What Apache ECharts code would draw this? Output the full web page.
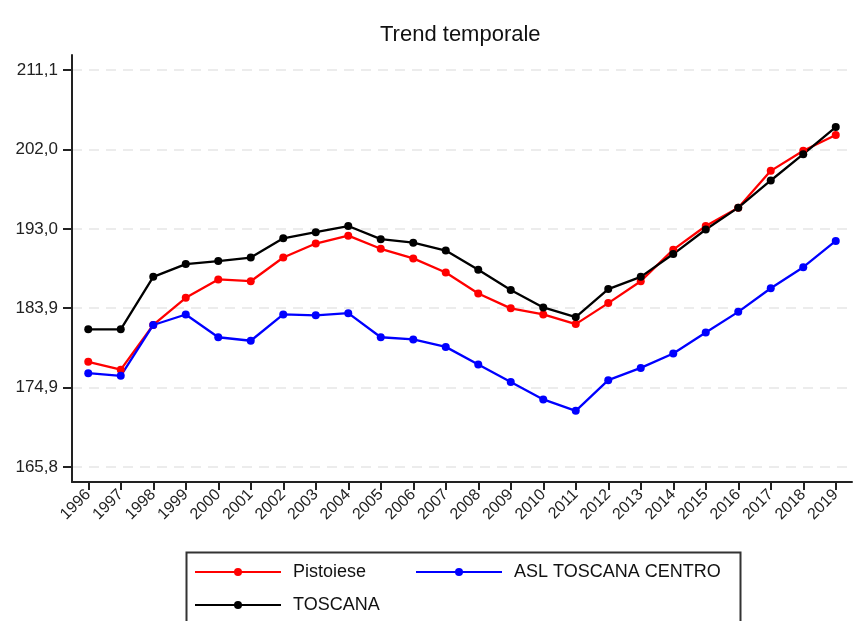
<!DOCTYPE html>
<html>
<head>
<meta charset="utf-8">
<script src="https://cdn.jsdelivr.net/npm/echarts@6/dist/echarts.min.js"></script>
<style>
html,body{margin:0;padding:0;background:#fff;}
#chart{width:857px;height:621px;}
</style>
</head>
<body>
<div id="chart"></div>
<script>
var years = ['1996','1997','1998','1999','2000','2001','2002','2003','2004','2005','2006','2007','2008','2009','2010','2011','2012','2013','2014','2015','2016','2017','2018','2019'];
var pistoiese = [177.8,176.9,182.0,185.1,187.2,187.0,189.7,191.3,192.2,190.7,189.6,188.0,185.6,183.9,183.2,182.1,184.5,187.0,190.6,193.3,195.4,199.6,201.9,203.7];
var aslToscanaCentro = [176.5,176.2,182.0,183.2,180.6,180.2,183.2,183.1,183.35,180.6,180.35,179.5,177.5,175.5,173.5,172.2,175.7,177.1,178.75,181.15,183.5,186.2,188.6,191.6];
var toscana = [181.5,181.5,187.5,188.95,189.3,189.7,191.9,192.6,193.3,191.8,191.4,190.5,188.3,186.0,184.0,182.9,186.1,187.5,190.1,192.9,195.4,198.5,201.5,204.6];
var yTicks = [165.8, 174.86, 183.92, 192.98, 202.04, 211.1];
var seriesNames = ['Pistoiese', 'ASL TOSCANA CENTRO', 'TOSCANA'];
var seriesColors = ['#ff0000', '#0000ff', '#000000'];

var FONT = "'Liberation Sans', Arial, sans-serif";
var chart = echarts.init(document.getElementById('chart'), null, {renderer: 'canvas'});

function mk(name, data, color) {
  return {
    name: name, type: 'line', data: data,
    symbol: 'circle', symbolSize: 8, showSymbol: true,
    itemStyle: {color: color},
    lineStyle: {color: color, width: 2.3},
    emphasis: {disabled: true},
    animation: false
  };
}

var option = {
  backgroundColor: '#ffffff',
  animation: false,
  title: {
    text: 'Trend temporale',
    left: 380, top: 24, padding: 0,
    textStyle: {fontFamily: FONT, fontSize: 22, fontWeight: 'normal', color: '#111'}
  },
  grid: {left: 72, right: 5, top: 55, bottom: 139, containLabel: false, outerBoundsMode: 'none'},
  xAxis: {
    type: 'category', data: years, boundaryGap: true,
    axisLine: {show: true, lineStyle: {color: '#222', width: 2}},
    axisTick: {show: true, alignWithLabel: true, length: 8, lineStyle: {color: '#222', width: 2}},
    axisLabel: {rotate: 45, margin: 10, interval: 0, fontFamily: FONT, fontSize: 16, color: '#222'},
    splitLine: {show: false}
  },
  yAxis: {
    type: 'value', min: 164.07, max: 212.83,
    axisLine: {show: true, lineStyle: {color: '#222', width: 2}},
    axisTick: {show: true, length: 9, customValues: yTicks, lineStyle: {color: '#222', width: 2}},
    axisLabel: {
      customValues: yTicks, margin: 14, fontFamily: FONT, fontSize: 17, color: '#222',
      formatter: function (v) { return v.toFixed(1).replace('.', ','); }
    },
    splitLine: {show: true, lineStyle: {color: '#e6e6e6', width: 1.5, type: [10, 7]}}
  },
  legend: {
    data: seriesNames,
    left: 184, top: 550, width: 560,
    padding: [13, 10, 13, 10],
    itemWidth: 86, itemHeight: 10, itemGap: 15,
    orient: 'horizontal',
    textStyle: {fontFamily: FONT, fontSize: 18, color: '#111', width: 107, lineHeight: 18, padding: [0, 0, 0, 7], overflow: 'none'}
  },
  graphic: [{
    type: 'rect', left: 184, top: 550,
    shape: {width: 554, height: 100},
    style: {fill: 'none', stroke: '#333', lineWidth: 2},
    silent: true
  }],
  series: [
    mk(seriesNames[0], pistoiese, seriesColors[0]),
    mk(seriesNames[1], aslToscanaCentro, seriesColors[1]),
    mk(seriesNames[2], toscana, seriesColors[2])
  ]
};
chart.setOption(option);
</script>
</body>
</html>
